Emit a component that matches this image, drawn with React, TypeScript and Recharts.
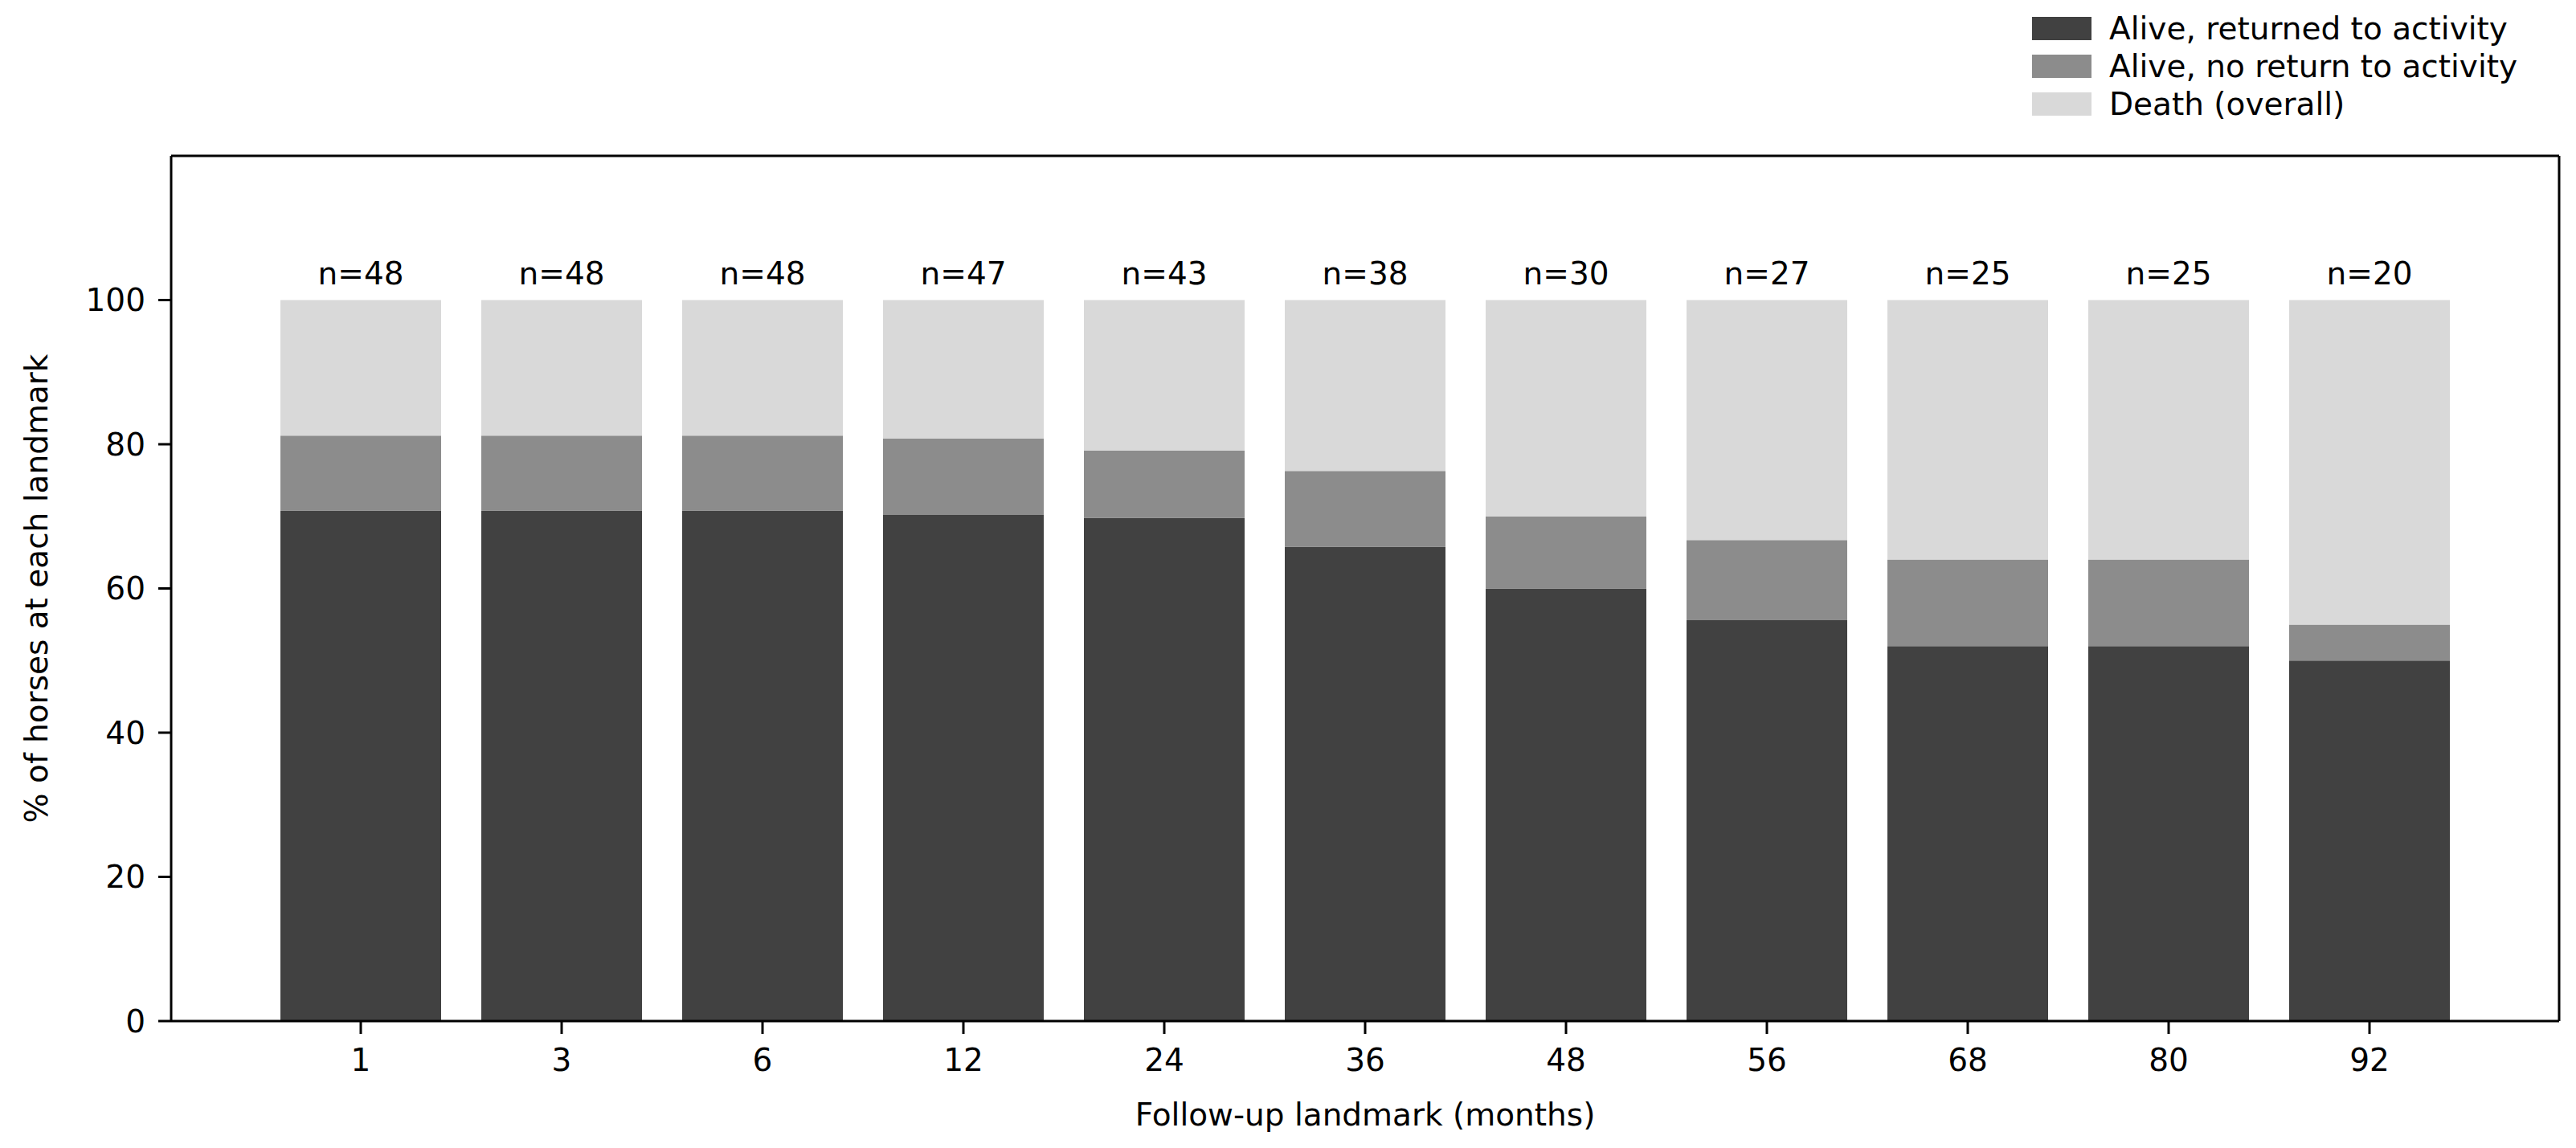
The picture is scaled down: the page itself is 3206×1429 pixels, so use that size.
import { BarChart, Bar, XAxis, YAxis, Legend, LabelList, Label, CartesianGrid } from 'recharts';

const MONTHS = ['1', '3', '6', '12', '24', '36', '48', '56', '68', '80', '92'];
const N_AT_RISK = [48, 48, 48, 47, 43, 38, 30, 27, 25, 25, 20];
const RETURNED = [70.8, 70.8, 70.8, 70.2, 69.8, 65.8, 60.0, 55.6, 52.0, 52.0, 50.0];
const NO_RETURN = [10.4, 10.4, 10.4, 10.6, 9.3, 10.5, 10.0, 11.1, 12.0, 12.0, 5.0];
const DEATH = [18.8, 18.8, 18.8, 19.2, 20.9, 23.7, 30.0, 33.3, 36.0, 36.0, 45.0];
const Y_TICKS = [0, 20, 40, 60, 80, 100];
const SERIES_NAMES = ['Alive, returned to activity', 'Alive, no return to activity', 'Death (overall)'];

const data = MONTHS.map((m, i) => ({
  month: m,
  returned: RETURNED[i],
  noReturn: NO_RETURN[i],
  death: DEATH[i],
  nLabel: `n=${N_AT_RISK[i]}`,
}));

const FONT = 39;
const AXIS = { stroke: '#000', strokeWidth: 3 };
const TICK = { fill: '#000', fontSize: FONT };

function LegendBox({ payload }: any) {
  return (
    <div style={{ fontSize: FONT, color: '#000' }}>
      {(payload || []).map((p: any) => (
        <div key={p.value} style={{ display: 'flex', alignItems: 'center', height: 47 }}>
          <span style={{ display: 'inline-block', width: 74, height: 29, background: p.color }} />
          <span style={{ marginLeft: 22, whiteSpace: 'nowrap' }}>{p.value}</span>
        </div>
      ))}
    </div>
  );
}

export default function App() {
  return (
    <div style={{ position: 'absolute', left: 0, top: 0, width: 3206, height: 1429, background: '#fff', fontFamily: '"DejaVu Sans", sans-serif' }}>
      <BarChart
        width={3206}
        height={1429}
        data={data}
        barCategoryGap="10%"
        margin={{ top: 194, right: 21, bottom: 0, left: 0 }}
      >
        {/* box frame round the plot area */}
        <CartesianGrid
          stroke="#000"
          strokeWidth={3}
          horizontalCoordinatesGenerator={({ offset }: any) => [offset.top]}
          verticalCoordinatesGenerator={({ offset }: any) => [offset.left + offset.width]}
        />
        <XAxis
          dataKey="month"
          height={158}
          padding={{ left: 111, right: 111 }}
          axisLine={AXIS}
          tickLine={AXIS}
          tickSize={16}
          tickMargin={18}
          tick={TICK}
          interval={0}
        >
          <Label value="Follow-up landmark (months)" position="insideBottom" offset={28} fill="#000" fontSize={FONT} />
        </XAxis>
        <YAxis
          width={213}
          domain={[0, 120]}
          ticks={Y_TICKS}
          allowDataOverflow
          axisLine={AXIS}
          tickLine={AXIS}
          tickSize={16}
          tickMargin={16}
          tick={TICK}
        >
          <Label
            value="% of horses at each landmark"
            angle={-90}
            position="insideLeft"
            offset={45}
            fill="#000"
            fontSize={FONT}
            style={{ textAnchor: 'middle' }}
          />
        </YAxis>
        <Legend
          layout="horizontal"
          verticalAlign="middle"
          align="center"
          itemSorter={(item: any) => SERIES_NAMES.indexOf(item.value)}
          wrapperStyle={{ position: 'absolute', top: 12, left: 2529, width: 'auto' }}
          content={<LegendBox />}
        />
        <Bar dataKey="returned" name={SERIES_NAMES[0]} stackId="s" fill="#414141" isAnimationActive={false} />
        <Bar dataKey="noReturn" name={SERIES_NAMES[1]} stackId="s" fill="#8c8c8c" isAnimationActive={false} />
        <Bar dataKey="death" name={SERIES_NAMES[2]} stackId="s" fill="#d9d9d9" isAnimationActive={false}>
          <LabelList dataKey="nLabel" position="top" offset={20} fill="#000" fontSize={FONT} />
        </Bar>
      </BarChart>
    </div>
  );
}
